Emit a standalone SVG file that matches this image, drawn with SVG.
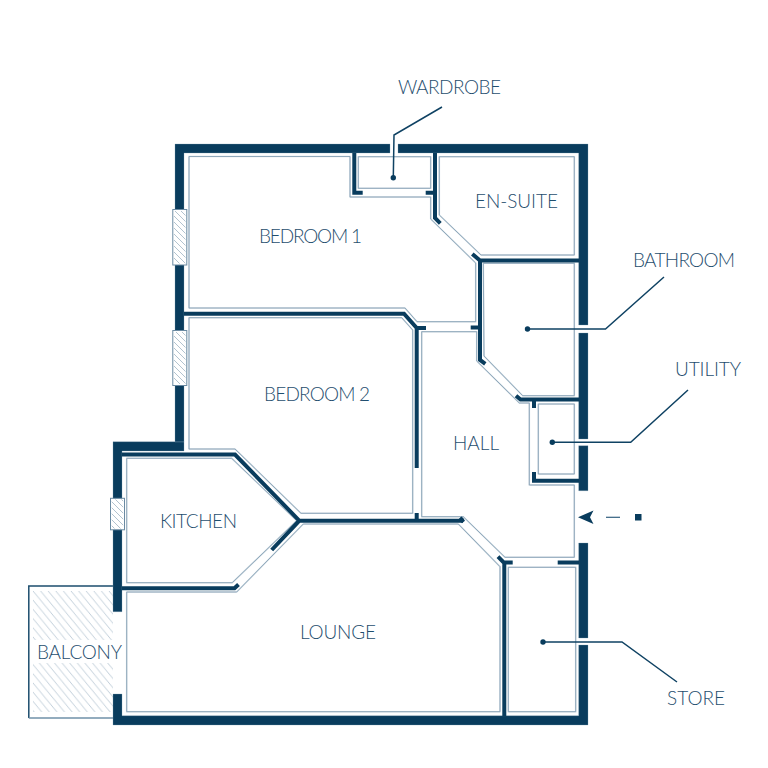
<svg xmlns="http://www.w3.org/2000/svg" width="768" height="768" viewBox="0 0 768 768">
<style>
.w{fill:#093c5d;stroke:#7e9bb0;stroke-width:.3}
.i{fill:none;stroke:#093c5d;stroke-width:4}
.r{fill:none;stroke:#d5dfe6;stroke-width:1.6}
.r2{fill:none;stroke:#7e9bb0;stroke-width:.8}
.l{fill:none;stroke:#0f4263;stroke-width:1.500}
.d{fill:#093c5d}
text{font-family:"Lato","Open Sans",sans-serif;font-weight:300;font-size:19px;fill:#1f4e6e;text-anchor:middle}
</style>
<defs>
<pattern id="h" width="7.6" height="9.2" patternUnits="userSpaceOnUse" x="33" y="591">
<path d="M-1 -1.200L8.600 10.400M-8.600 -1.200L1 10.400M6.600 -1.200L16.200 10.400" stroke="#bccbd6" stroke-width=".9" fill="none"/>
</pattern>
<pattern id="hw" width="6" height="6" patternUnits="userSpaceOnUse">
<path d="M-1 -1L7 7M-7 -1L1 7M5 -1L13 7" stroke="#a9bcca" stroke-width=".9" fill="none"/>
</pattern>
<path id="rooms" d="M189 156.500H350V197H430.700V219L475.700 263V321.700H417L405 308H189ZM358.300 156.700H430.700V188.300H358.300ZM439.300 156.700H574.300V255H481L439.300 215ZM483.300 263.300H574.300V395.700H522.700L484 356ZM189 317.700H401.700L412.700 330V513.300H301L235 449H189ZM421.700 331.700H476.700V361L519.300 403H529.300V485H574.300V557.300H505L463.300 516.700H421.700ZM538.300 404H574.300V474H538.300ZM126.700 458.300H231.700L296.700 520.700L232.300 582.700H126.700ZM126.700 592H236.700L303.300 524H458.300L500 566.700V711.700H126.700ZM508.300 567.300H575.700V711.700H508.300Z"/>
</defs>
<rect width="768" height="768" fill="#fff"/>
<g id="balcony">
<rect x="33" y="591" width="80" height="49" fill="url(#h)"/>
<rect x="33" y="663" width="80" height="49" fill="url(#h)"/>
<path d="M113 586H28.800V718" fill="none" stroke="#1d4d6d" stroke-width="1.500"/>
<path d="M28.800 718H113" fill="none" stroke="#6f90a8" stroke-width="1.500"/>
</g>
<g id="rooms-outline">
<use href="#rooms" class="r"/>
<use href="#rooms" class="r2"/>
</g>
<g id="walls">
<path class="w" d="M175 144H390V153H184V442H175ZM398 144H588V325H578.700V153H398ZM578.700 333H588V439H578.700ZM578.700 445.700H588V490.700H578.700ZM578.700 543H588V638H578.700ZM578.700 645H588V725H113V694H122V715.700H578.700ZM113 441.700H184V451H122V611.700H113Z"/>
<path class="i" d="M122 454.500H235L299.300 520.700L271.700 550M299.300 520.700H463M463 520.700L460 518"/>
<path class="i" d="M122 588.300H234.500L238.500 584.500M184 313.700H404L416.700 328V468M416.700 328H426M416.700 513V520.700"/>
<path class="i" d="M354.300 153V192.700H362.700M435 153V218L440.300 223.300M425.700 192.700H435M472.300 254L480 260.500H579M480 259V360L485.300 363.800M470.700 327.500H480M516 395.700L520.500 399.500H579M534 399.500V408M534 472V480.700H579M460 518L463.500 522M498 556.700L504.300 563V716M504 562.500H512.700M557.700 562.500H579"/>
</g>
<g id="windows">
<rect x="172.800" y="209.500" width="14" height="55.500" fill="#fff" stroke="#6a8aa2" stroke-width="1"/>
<rect x="174" y="211" width="11.500" height="52.500" fill="url(#hw)"/>
<rect x="172.800" y="330.500" width="14" height="55" fill="#fff" stroke="#6a8aa2" stroke-width="1"/>
<rect x="174" y="332" width="11.500" height="52" fill="url(#hw)"/>
<rect x="110.500" y="498.300" width="14" height="31.500" fill="#fff" stroke="#6a8aa2" stroke-width="1"/>
<rect x="111.700" y="499.500" width="11.500" height="29" fill="url(#hw)"/>
</g>
<g id="connectors">
<path class="l" d="M442 107L394 135L393.300 177.700"/>
<circle class="d" cx="393.300" cy="177.700" r="2.700"/>
<path class="l" d="M527.500 329H605.500L664 277"/>
<circle class="d" cx="527.500" cy="329" r="2.700"/>
<path class="l" d="M552.300 442.300H630.700L688 390"/>
<circle class="d" cx="552.300" cy="442.300" r="2.700"/>
<path class="l" d="M543 642H622L677 682"/>
<circle class="d" cx="543" cy="642" r="2.700"/>
</g>
<g id="entrance">
<path class="d" d="M578 517.300L593.500 510.500L590 517.300L593.500 524Z"/>
<path d="M606 517.300H620" stroke="#33607f" stroke-width="1.200"/>
<rect class="d" x="635" y="514" width="6.500" height="6.500"/>
</g>
<g id="labels">
<text x="449.500" y="93.500" textLength="103">WARDROBE</text>
<text x="516.500" y="208" textLength="83">EN-SUITE</text>
<text x="310.500" y="242.500" textLength="103">BEDROOM 1</text>
<text x="684" y="266.500" textLength="102">BATHROOM</text>
<text x="708" y="376" textLength="66">UTILITY</text>
<text x="317" y="400.500" textLength="106">BEDROOM 2</text>
<text x="476" y="450" textLength="46">HALL</text>
<text x="198.500" y="528" textLength="77">KITCHEN</text>
<text x="338" y="638.500" textLength="76">LOUNGE</text>
<text x="79.500" y="658.500" textLength="85">BALCONY</text>
<text x="696" y="704.500" textLength="58">STORE</text>
</g>
</svg>
